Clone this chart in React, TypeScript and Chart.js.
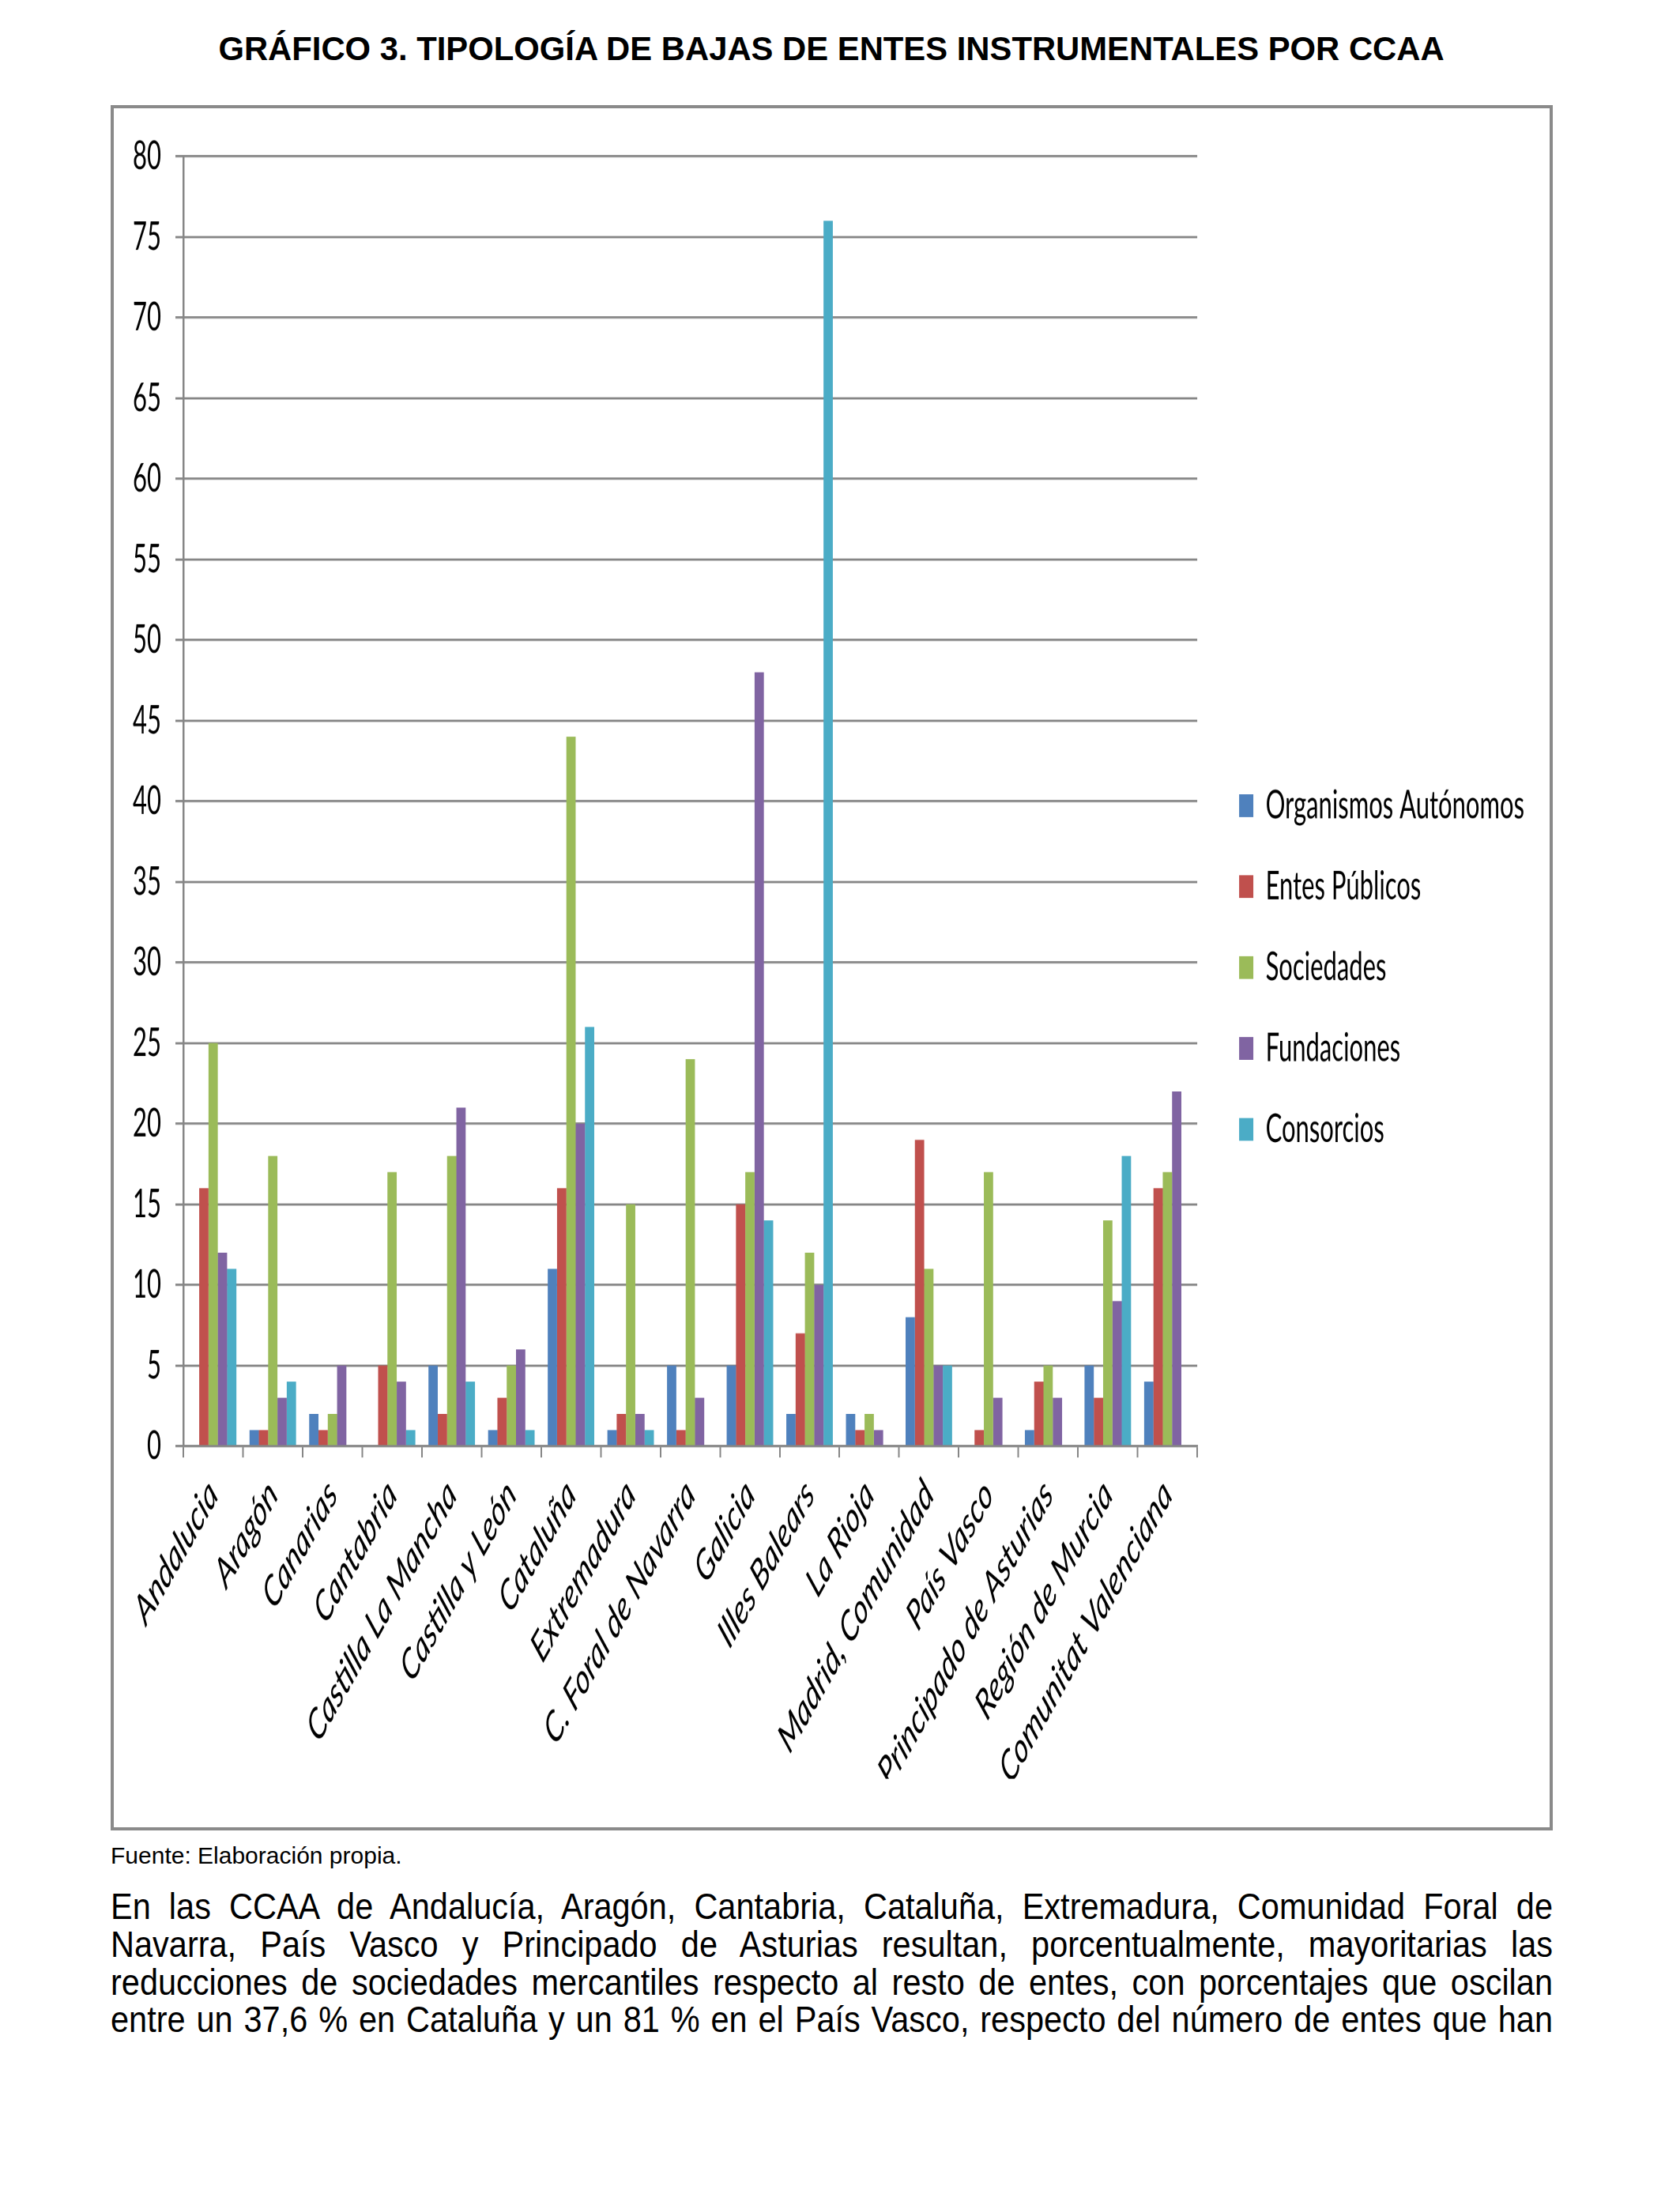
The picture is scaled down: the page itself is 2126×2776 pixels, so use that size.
import React, { useEffect, useRef } from "react";
import { Chart, registerables } from "chart.js";

Chart.register(...registerables);

const categories = [
  "Andalucia",
  "Aragón",
  "Canarias",
  "Cantabria",
  "Castilla La Mancha",
  "Castilla y León",
  "Cataluña",
  "Extremadura",
  "C. Foral de Navarra",
  "Galicia",
  "Illes Balears",
  "La Rioja",
  "Madrid, Comunidad",
  "País Vasco",
  "Principado de Asturias",
  "Región de Murcia",
  "Comunitat Valenciana",
];

const organismosAutonomos = [0, 1, 2, 0, 5, 1, 11, 1, 5, 5, 2, 2, 8, 0, 1, 5, 4];
const entesPublicos = [16, 1, 1, 5, 2, 3, 16, 2, 1, 15, 7, 1, 19, 1, 4, 3, 16];
const sociedades = [25, 18, 2, 17, 18, 5, 44, 15, 24, 17, 12, 2, 11, 17, 5, 14, 17];
const fundaciones = [12, 3, 5, 4, 21, 6, 20, 2, 3, 48, 10, 1, 5, 3, 3, 9, 22];
const consorcios = [11, 4, 0, 1, 4, 1, 26, 1, 0, 14, 76, 0, 5, 0, 0, 18, 0];

const seriesNames = ["Organismos Autónomos", "Entes Públicos", "Sociedades", "Fundaciones", "Consorcios"];
const seriesColors = ["#4F81BD", "#C0504D", "#9BBB59", "#8064A2", "#4BACC6"];

const yTicks = [0, 5, 10, 15, 20, 25, 30, 35, 40, 45, 50, 55, 60, 65, 70, 75, 80];

const titleText = "GRÁFICO 3. TIPOLOGÍA DE BAJAS DE ENTES INSTRUMENTALES POR CCAA";
const sourceText = "Fuente: Elaboración propia.";
const paragraphLines = [
  "En las CCAA de Andalucía, Aragón, Cantabria, Cataluña, Extremadura, Comunidad Foral de",
  "Navarra, País Vasco y Principado de Asturias resultan, porcentualmente, mayoritarias las",
  "reducciones de sociedades mercantiles respecto al resto de entes, con porcentajes que oscilan",
  "entre un 37,6 % en Cataluña y un 81 % en el País Vasco, respecto del número de entes que han",
];

const STRETCH = 1.6;
const BOX_L = 140;
const BOX_T = 133;
const BOX_W = 1825;
const BOX_H = 2183;
const BORDER = 4;
const CW = BOX_W - 2 * BORDER;
const CH = Math.round((BOX_H - 2 * BORDER) / STRETCH);
const GRID = "#868686";

function ChartCanvas() {
  const ref = useRef<HTMLCanvasElement | null>(null);
  useEffect(() => {
    let chart: Chart | null = null;
    let cancelled = false;
    const build = () => {
      if (cancelled || !ref.current) return;
      const values = [organismosAutonomos, entesPublicos, sociedades, fundaciones, consorcios];
      chart = new Chart(ref.current, {
        type: "bar",
        data: {
          labels: categories,
          datasets: values.map((v, i) => ({
            label: seriesNames[i],
            data: v,
            backgroundColor: seriesColors[i],
            borderWidth: 0,
            categoryPercentage: 0.78,
            barPercentage: 1,
          })),
        },
        options: {
          animation: false,
          responsive: false,
          devicePixelRatio: 2,
          layout: { padding: { top: 38, bottom: 38, left: 0, right: 22 } },
          plugins: {
            tooltip: { enabled: false },
            legend: {
              position: "right",
              align: "center",
              maxWidth: 440,
              labels: {
                boxWidth: 18,
                boxHeight: 18,
                padding: 33,
                color: "#000",
                font: { family: "Lato", size: 31 },
              },
            },
          },
          scales: {
            x: {
              grid: {
                display: true,
                drawOnChartArea: false,
                drawTicks: true,
                tickLength: 9,
                color: GRID,
                lineWidth: 2,
              },
              border: { display: true, color: GRID, width: 1.8 },
              ticks: {
                autoSkip: false,
                maxRotation: 48,
                minRotation: 48,
                padding: 10,
                color: "#000",
                font: { family: "Lato", size: 33.5, style: "italic" },
              },
              afterFit: (s: any) => {
                s.height = CH - 38 - 1058;
              },
            },
            y: {
              min: 0,
              max: 80,
              afterBuildTicks: (s: any) => {
                s.ticks = yTicks.map((v) => ({ value: v }));
              },
              grid: {
                color: GRID,
                lineWidth: 1.8,
                drawTicks: true,
                tickLength: 10,
              },
              border: { display: true, color: GRID, width: 2.5 },
              ticks: {
                padding: 18,
                color: "#000",
                font: { family: "Lato", size: 31 },
              },
              afterFit: (s: any) => {
                s.width = 88;
              },
            },
            yRight: {
              type: "linear",
              position: "right",
              display: true,
              grid: { display: false },
              border: { display: false },
              ticks: { display: false },
              afterFit: (s: any) => {
                s.width = 20;
              },
            },
          },
        },
      });
    };
    const fontsApi = (document as any).fonts;
    if (fontsApi && fontsApi.load) {
      Promise.all([
        fontsApi.load("31px Lato"),
        fontsApi.load("italic 33.5px Lato"),
      ])
        .catch(() => null)
        .then(() => build());
    } else {
      build();
    }
    return () => {
      cancelled = true;
      if (chart) chart.destroy();
    };
  }, []);
  return <canvas ref={ref} width={CW} height={CH} style={{ display: "block" }} />;
}

export default function App() {
  return (
    <div style={{ position: "absolute", left: 0, top: 0, width: 2126, height: 2776, background: "#fff" }}>
      <div
        style={{
          position: "absolute",
          left: 0,
          top: 38,
          width: 2104,
          textAlign: "center",
          fontFamily: "'Liberation Sans', Arial, sans-serif",
          fontWeight: "bold",
          fontSize: 41.8,
          lineHeight: "48px",
          color: "#000",
        }}
      >
        {titleText}
      </div>
      <div
        style={{
          position: "absolute",
          left: BOX_L,
          top: BOX_T,
          width: BOX_W,
          height: BOX_H,
          boxSizing: "border-box",
          border: `${BORDER}px solid #8a8a8a`,
          background: "#fff",
        }}
      />
      <div
        style={{
          position: "absolute",
          left: BOX_L + BORDER,
          top: BOX_T + BORDER,
          width: CW,
          height: CH,
          transform: `scaleY(${STRETCH})`,
          transformOrigin: "0 0",
        }}
      >
        <ChartCanvas />
      </div>
      <div
        style={{
          position: "absolute",
          left: 140,
          top: 2331,
          fontFamily: "'Liberation Sans', Arial, sans-serif",
          fontSize: 30,
          lineHeight: "34px",
          color: "#000",
          whiteSpace: "nowrap",
        }}
      >
        {sourceText}
      </div>
      {paragraphLines.map((line, i) => (
        <div
          key={i}
          style={{
            position: "absolute",
            left: 140,
            top: 2389 + i * 47.8,
            width: BOX_W,
            fontFamily: "'Liberation Sans', Arial, sans-serif",
            fontSize: 41.5,
            lineHeight: "48px",
            color: "#000",
            textAlign: "justify",
            textAlignLast: "justify",
            whiteSpace: "nowrap",
            transform: "scaleY(1.1)",
            transformOrigin: "50% 50%",
          }}
        >
          {line}
        </div>
      ))}
    </div>
  );
}
